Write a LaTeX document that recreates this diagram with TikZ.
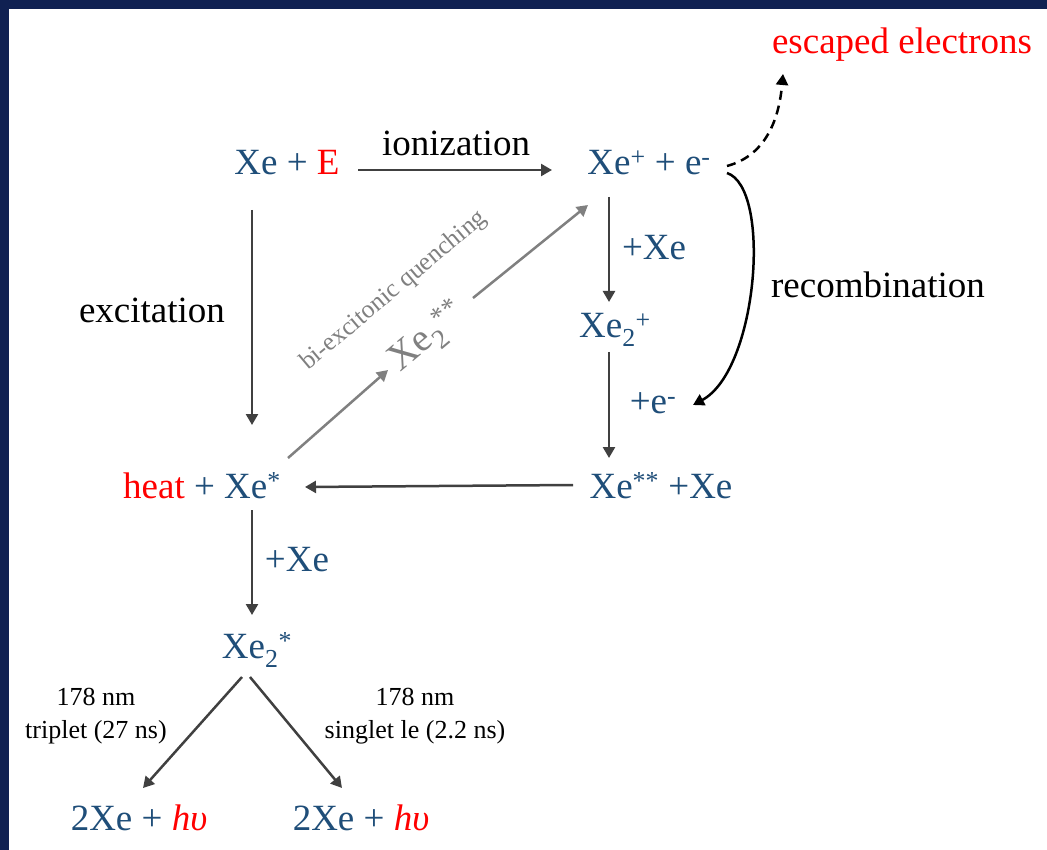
\documentclass[tikz,border=0pt]{standalone}
\usepackage{fontspec}
\setmainfont{Liberation Serif}
\usetikzlibrary{arrows.meta}
\definecolor{xeblue}{RGB}{31,78,121}
\definecolor{framenavy}{RGB}{16,33,82}
\definecolor{arrgrey}{RGB}{64,64,64}
\definecolor{qgrey}{RGB}{128,128,128}
\begin{document}
\begin{tikzpicture}[
  x=1pt, y=-1pt,
  species/.style={inner sep=0pt, text=xeblue, font=\fontsize{37}{44}\selectfont},
  note/.style={inner sep=0pt, font=\fontsize{37}{44}\selectfont},
  small/.style={inner sep=0pt, align=center, font=\fontsize{26}{33}\selectfont},
  arr/.style={draw=arrgrey, line width=2.5pt, -{Triangle[length=11pt,width=12pt]}},
  qarr/.style={draw=qgrey, line width=2.5pt, -{Triangle[length=11pt,width=12pt]}}
]
  \useasboundingbox (0,0) rectangle (1047,850);
  \fill[white] (0,0) rectangle (1047,850);
  \fill[framenavy] (0,0) rectangle (1047,9);
  \fill[framenavy] (0,0) rectangle (9,850);

  \node[species] (xeE) at (287,163) {Xe + \textcolor{red}{E}};
  \node[note] (ion) at (456,143) {ionization};
  \node[species] (xep) at (649,163) {Xe\textsuperscript{+} + e\textsuperscript{-}};
  \node[note, text=red] (esc) at (902,45) {escaped electrons};
  \node[note] (rec) at (878,285) {recombination};
  \node[species] (pxe1) at (654,248) {+Xe};
  \node[species] (xe2p) at (615,330) {Xe\textsubscript{2}\textsuperscript{+}};
  \node[species] (pe) at (653,403) {+e\textsuperscript{-}};
  \node[species] (xess) at (661,486) {Xe\textsuperscript{**} +Xe};
  \node[species] (heat) at (202,486) {\textcolor{red}{heat} + Xe\textsuperscript{*}};
  \node[note] (exc) at (152,310) {excitation};
  \node[species] (pxe2) at (297,560) {+Xe};
  \node[species] (xe2s) at (257,650) {Xe\textsubscript{2}\textsuperscript{*}};
  \node[inner sep=0pt, text=qgrey, rotate=40, font=\fontsize{25.5}{30}\selectfont] (biq) at (394,291) {bi-excitonic quenching};
  \node[species, text=qgrey, rotate=40, font=\fontsize{39}{46}\selectfont] (xe2ss) at (428,338) {Xe\textsubscript{2}\textsuperscript{**}};
  \node[small] (trip) at (96,716) {178 nm\\triplet (27 ns)};
  \node[small] (sing) at (415,716) {178 nm\\singlet le (2.2 ns)};
  \node[species] (out1) at (139,818) {2Xe + \textcolor{red}{\textit{hυ}}};
  \node[species] (out2) at (361,818) {2Xe + \textcolor{red}{\textit{hυ}}};

  \draw[arr] ([shift={(71,7)}]xeE.center) -- ([shift={(-97,7)}]xep.center);
  \draw[black, line width=2.5pt, dash pattern=on 9pt off 6pt, -{Triangle[length=11pt,width=12pt]}]
    ([shift={(78,3)}]xep.center) to[out=15, in=-95] ([shift={(-119,29)}]esc.center);
  \draw[black, line width=2.5pt, -{Triangle[length=11pt,width=12pt]}]
    ([shift={(78,10)}]xep.center) .. controls +(45,15) and +(65,-35) .. ([shift={(40,2)}]pe.center);
  \draw[arr] ([shift={(-40,34)}]xep.center) -- ([shift={(-6,-28)}]xe2p.center);
  \draw[arr] ([shift={(-6,22)}]xe2p.center) -- ([shift={(-52,-28)}]xess.center);
  \draw[arr] ([shift={(-88,-1)}]xess.center) -- ([shift={(103,1)}]heat.center);
  \draw[arr] ([shift={(-35,47)}]xeE.center) -- ([shift={(50,-61)}]heat.center);
  \draw[arr] ([shift={(50,24)}]heat.center) -- ([shift={(-5,-35)}]xe2s.center);
  \draw[qarr] ([shift={(86,-28)}]heat.center) -- ([shift={(-40,32)}]xe2ss.center);
  \draw[qarr] ([shift={(45,-40)}]xe2ss.center) -- ([shift={(-61,42)}]xep.center);
  \draw[arr] ([shift={(-15,27)}]xe2s.center) -- ([shift={(4,-30)}]out1.center);
  \draw[arr] ([shift={(-7,27)}]xe2s.center) -- ([shift={(-19,-30)}]out2.center);
\end{tikzpicture}
\end{document}
